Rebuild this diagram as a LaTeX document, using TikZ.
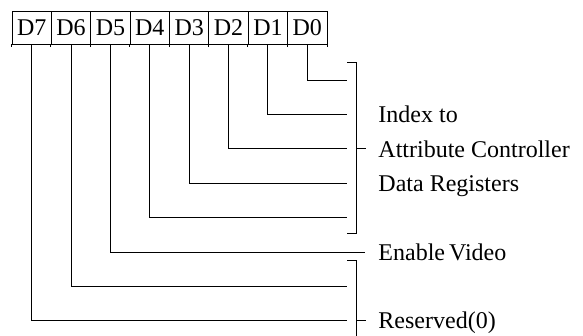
\documentclass[tikz,border=0pt]{standalone}
\usepackage{fontspec}
\setmainfont{Liberation Serif}
\begin{document}
\begin{tikzpicture}[x=1pt,y=-1pt, line width=0.9pt,
  bitbox/.style={draw, minimum width=39.375pt, minimum height=33pt, inner sep=0pt,
    font=\fontsize{24}{28}\selectfont, text height=16pt, text depth=0pt},
  lbl/.style={anchor=base west, inner sep=0pt, font=\fontsize{24}{28}\selectfont},
  wire/.style={draw}]
\useasboundingbox (0,0) rectangle (583,335);
% register boxes
\foreach \i [count=\k from 0] in {7,6,5,4,3,2,1,0} {
  \node[bitbox] (b\i) at ({12+39.375*(\k+0.5)}, 27.5) {D\i};
}
% small ticks below dividers
\foreach \i in {6,5,4,3,2,1,0} {
  \draw (b\i.south west) -- ++(0,3);
}
\draw (b0.south east) -- ++(0,3);
\draw (b7.south west) -- ++(0,3);
% line end points
\coordinate (e0) at (347,80);
\coordinate (e1) at (347,114);
\coordinate (e2) at (347,148);
\coordinate (e3) at (347,183);
\coordinate (e4) at (347,217);
\coordinate (e5) at (365,252);
\coordinate (e6) at (347,286);
\coordinate (e7) at (347,320);
\foreach \i in {0,...,7} {
  \draw (b\i.south) |- (e\i);
}
% brackets
\draw (347,62) -- (356,62) -- (356,233) -- (347,233);
\draw (356,148) -- (366,148);
\draw (347,260) -- (356,260) -- (356,345);
\draw (356,320) -- (366,320);
% labels
\node[lbl] (t1) at (378,122.5) {Index to};
\node[lbl] (t2) at (378,157) {Attribute Controller};
\node[lbl] (t3) at (378,191.5) {Data Registers};
\node[lbl] (t4) at (378,260.5) {Enable\,Video};
\node[lbl] (t5) at (378,328.5) {Reserved(0)};
\end{tikzpicture}
\end{document}
